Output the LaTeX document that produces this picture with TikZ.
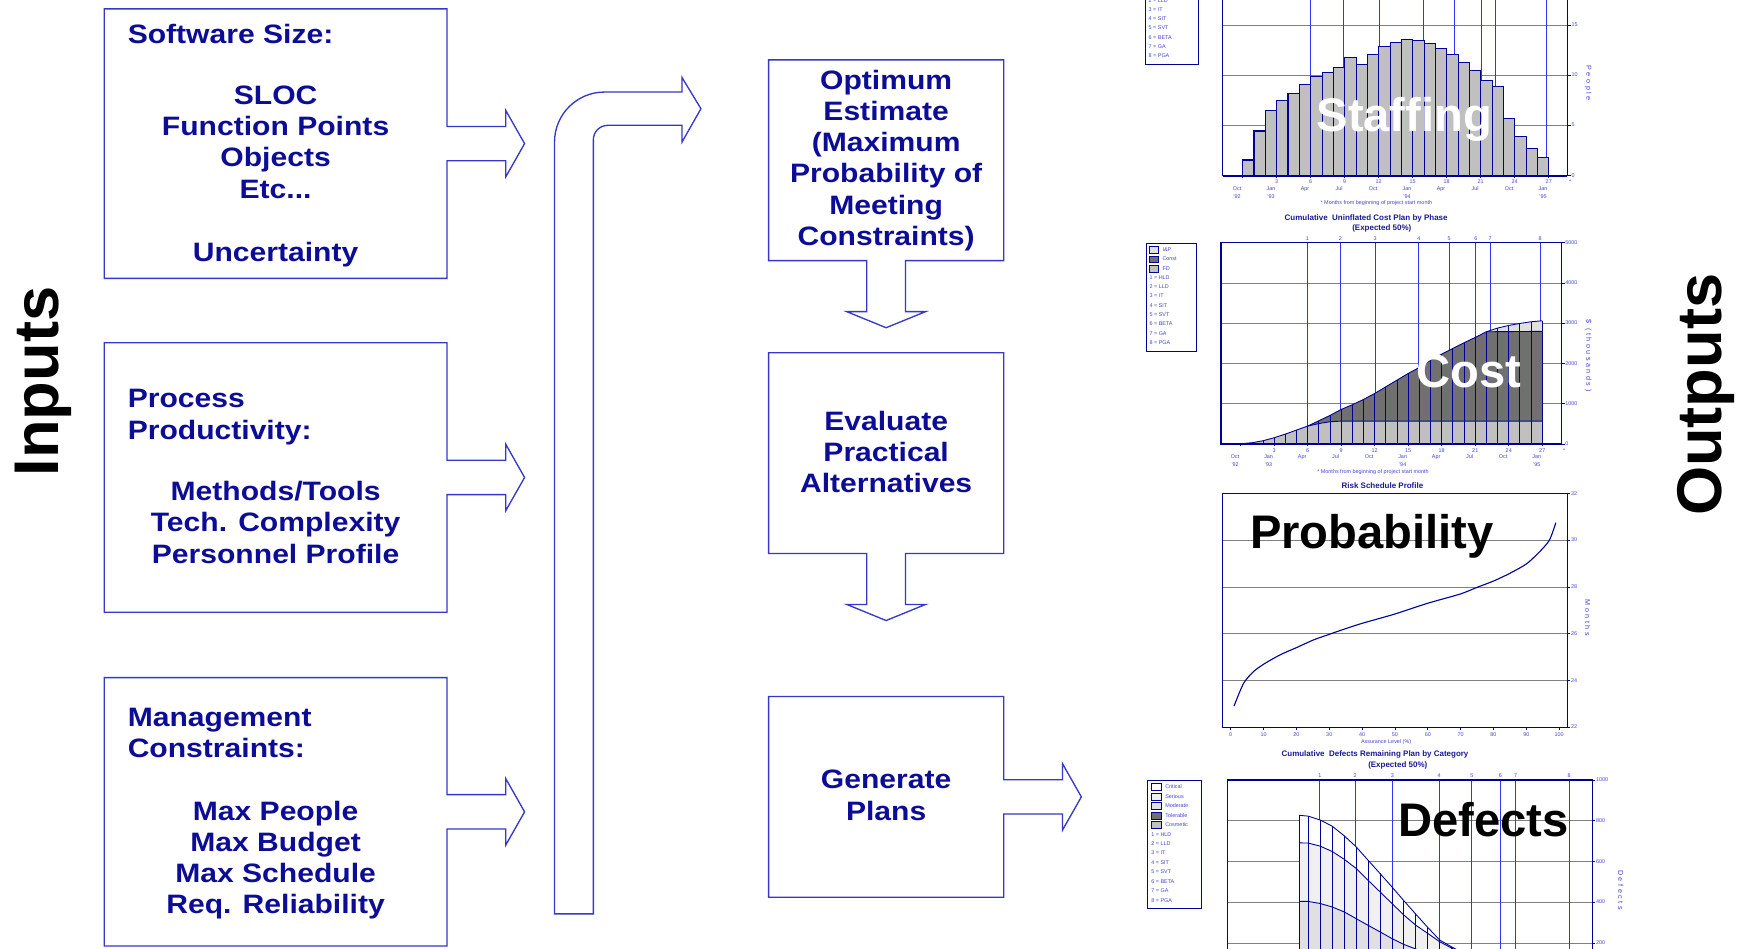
\documentclass[tikz,border=0pt]{standalone}
\usepackage{fontspec}
\setmainfont{Liberation Sans}
\newfontfamily\boxfont[FakeStretch=1.13]{Liberation Sans}
\newfontfamily\spfont[LetterSpace=35]{Liberation Sans}
\usetikzlibrary{calc}
\definecolor{navyT}{RGB}{12,12,150}
\definecolor{lineB}{RGB}{55,55,200}
\definecolor{frameB}{RGB}{0,0,150}
\definecolor{phaseB}{RGB}{50,50,250}
\definecolor{gridG}{RGB}{128,128,128}
\definecolor{labB}{RGB}{70,70,210}
\definecolor{titleB}{RGB}{25,25,150}
\definecolor{barG}{RGB}{192,192,192}
\definecolor{darkG}{RGB}{112,112,112}
\definecolor{lightG}{RGB}{224,224,224}
\definecolor{vlightG}{RGB}{240,240,240}
\tikzset{
  outl/.style={draw=lineB, line width=1.2pt, line join=miter},
  boxnode/.style={draw=none, rectangle, inner sep=0pt, outer sep=0pt},
  tx/.style={font=\boxfont\bfseries\fontsize{24}{28}\selectfont, text=navyT, inner sep=0pt},
  bigk/.style={font=\bfseries\fontsize{57}{62}\selectfont, text=black, inner sep=0pt},
  chartword/.style={font=\bfseries\fontsize{42.5}{48}\selectfont, inner sep=0pt},
  lab/.style={font=\fontsize{4.9}{5.5}\selectfont, text=labB, inner sep=0pt, text height=3.5pt, text depth=0.9pt},
  axt/.style={font=\spfont\fontsize{6.5}{7}\selectfont, text=labB, inner sep=0pt, rotate=-90},
  ctitle/.style={font=\bfseries\fontsize{7.2}{8}\selectfont, text=titleB, inner sep=0pt},
  frame/.style={draw=frameB, line width=1.1pt},
  gridl/.style={draw=gridG, line width=0.9pt},
  phase/.style={draw=phaseB, line width=0.9pt},
  colL/.style={draw=frameB, line width=0.8pt},
  barst/.style={fill=barG, draw=frameB, line width=1pt},
  leg/.style={draw=frameB, line width=0.8pt},
}
\newcommand\rarrowbox[1]{\draw[outl] (#1.north west) -- (#1.north east) -- ($(#1.east)+(0,-15.5)$) -- ++(53,0) -- ++(0,-14.5) -- ($(#1.east)+(70,0)$) -- ($(#1.east)+(53,30)$) -- ++(0,-14.5) -- ($(#1.east)+(0,15.5)$) -- (#1.south east) -- (#1.south west) -- cycle;}
\newcommand\darrowbox[1]{\draw[outl] (#1.north west) -- (#1.north east) -- (#1.south east) -- ($(#1.south)+(17.5,0)$) -- ++(0,46) -- ++(18,0) -- ($(#1.south)+(0,60.5)$) -- ($(#1.south)+(-35.5,46)$) -- ++(18,0) -- ($(#1.south)+(-17.5,0)$) -- (#1.south west) -- cycle;}
\begin{document}
\begin{tikzpicture}[x=1pt,y=-1pt]
\useasboundingbox (0,0) rectangle (1568,855);
\fill[white] (0,0) rectangle (1568,855);
\begin{scope}
\clip (0,0) rectangle (1568,855);

% ---------- side titles
\node[bigk, rotate=90, anchor=base] (inputs) at (53,344) {Inputs};
\node[bigk, rotate=90, anchor=base] (outputs) at (1552.5,356) {Outputs};

% ---------- input boxes
\node[boxnode, minimum width=309pt, minimum height=243pt] (in1) at (248.5,129.5) {};
\node[boxnode, minimum width=309pt, minimum height=243pt] (in2) at (248.5,430.5) {};
\node[boxnode, minimum width=309pt, minimum height=242pt] (in3) at (248.5,732) {};
\rarrowbox{in1}
\rarrowbox{in2}
\rarrowbox{in3}

\node[tx, anchor=base west] (in1t) at (115,39) {Software Size:};
\node[tx, anchor=base] (in1a) at (248.5,94) {SLOC};
\node[tx, anchor=base] (in1b) at (248.5,122.3) {Function Points};
\node[tx, anchor=base] (in1c) at (248.5,150.3) {Objects};
\node[tx, anchor=base] (in1d) at (248.5,178.8) {Etc...};
\node[tx, anchor=base] (in1e) at (248.5,236) {Uncertainty};

\node[tx, anchor=base west] (in2t) at (115,367.3) {Process};
\node[tx, anchor=base west] (in2u) at (115,395.9) {Productivity:};
\node[tx, anchor=base] (in2a) at (248.5,451.5) {Methods/Tools};
\node[tx, anchor=base] (in2b) at (248.5,479.4) {Tech. Complexity};
\node[tx, anchor=base] (in2c) at (248.5,508) {Personnel Profile};

\node[tx, anchor=base west] (in3t) at (115,655) {Management};
\node[tx, anchor=base west] (in3u) at (115,683) {Constraints:};
\node[tx, anchor=base] (in3a) at (248.5,740) {Max People};
\node[tx, anchor=base] (in3b) at (248.5,768) {Max Budget};
\node[tx, anchor=base] (in3c) at (248.5,796) {Max Schedule};
\node[tx, anchor=base] (in3d) at (248.5,824) {Req. Reliability};

% ---------- bent collecting arrow
\coordinate (bentBot) at (500,824);
\draw[outl] (bentBot) -- (500,128) arc[start angle=180, end angle=270, radius=45] -- (615,83) -- (615,70) -- (632,98) -- (615,128) -- (615,113) -- (548,113) arc[start angle=270, end angle=180, radius=13] -- (535,824) -- cycle;

% ---------- process steps
\node[boxnode, minimum width=212pt, minimum height=181pt] (stepA) at (799,144.5) {};
\node[boxnode, minimum width=212pt, minimum height=181pt] (stepB) at (799,408.5) {};
\node[boxnode, minimum width=212pt, minimum height=181pt] (stepC) at (799,718.5) {};
\darrowbox{stepA}
\darrowbox{stepB}
\rarrowbox{stepC}

\node[tx, anchor=base] (sa1) at (799,80.5) {Optimum};
\node[tx, anchor=base] (sa2) at (799,108.8) {Estimate};
\node[tx, anchor=base] (sa3) at (799,136.8) {(Maximum};
\node[tx, anchor=base] (sa4) at (799,164.7) {Probability of};
\node[tx, anchor=base] (sa5) at (799,193) {Meeting};
\node[tx, anchor=base] (sa6) at (799,221) {Constraints)};
\node[tx, anchor=base] (sb1) at (799,388) {Evaluate};
\node[tx, anchor=base] (sb2) at (799,416) {Practical};
\node[tx, anchor=base] (sb3) at (799,444) {Alternatives};
\node[tx, anchor=base] (sc1) at (799,711) {Generate};
\node[tx, anchor=base] (sc2) at (799,739.4) {Plans};

% ================= Chart 1: Staffing
\draw[leg] (1033,-5) rectangle (1080.6,57.7);
\foreach \yy/\txt [count=\i] in {0.6/2 = LLD, 9/3 = IT, 17.1/4 = SIT, 25.5/5 = SVT, 34/6 = BETA, 42.1/7 = GA, 50.2/8 = PGA}
  \node[lab, anchor=west] (lgA\i) at (1035.5,\yy) {\txt};
\begin{scope}[shift={(1120.5,158.4)}, x=10.22pt, y=9.05pt]
  \foreach \p in {5,10,15,20} \draw[gridl] (-1.76,\p) -- (28.95,\p);
  \foreach \m in {5.97,8.92,12.03,15.95,18.67,21.05,22.33,26.8} \draw[phase] (\m,0) -- (\m,21);
  \foreach \h [count=\i] in {1.56,4.45,6.5,7.5,8.2,9.1,9.9,10.3,10.8,11.75,11.1,12.1,12.85,13.3,13.55,13.45,13.2,12.7,12.1,11.3,10.45,9.5,8.9,5.7,3.9,2.7,1.8}
    \draw[barst] (\i-1,0) rectangle (\i,\h);
  \draw[frame] (-1.76,21) -- (-1.76,0) -- (28.62,0) -- (28.62,21);
  \draw[draw=frameB, line width=1.8pt] (-1.76,0) -- (28.62,0);
  \foreach \p in {0,5,10,15} {
    \draw[frame, line width=0.7pt] (28.62,\p) -- (28.95,\p);
    \node[lab, anchor=west] (stY\p) at (29.0,\p) {\p};
  }
  \foreach \k in {0,3,...,27} \draw[frame, line width=0.6pt] (\k,0) -- (\k,-0.25);
\end{scope}
\foreach \k in {3,6,...,27} \node[lab] (stN\k) at ({1120.5+10.22*\k},164) {\k};
\node[lab] (stStar) at ({1120.5+10.22*28.9},164) {*};
\foreach \mn [count=\j from 0] in {Oct,Jan,Apr,Jul,Oct,Jan,Apr,Jul,Oct,Jan}
  \node[lab] (stM\j) at ({1120.5+10.22*(3*\j-0.5)},170.5) {\mn};
\node[lab] (stY92) at ({1120.5+10.22*(-0.5)},177.5) {'92};
\node[lab] (stY93) at ({1120.5+10.22*(2.5)},177.5) {'93};
\node[lab] (stY94) at ({1120.5+10.22*(14.5)},177.5) {'94};
\node[lab] (stY95) at ({1120.5+10.22*(26.5)},177.5) {'95};
\node[lab] (stFoot) at (1241,183.5) {* Months from beginning of project start month};
\node[axt] (stAx) at (1432,75) {People};
\node[chartword, text=white, anchor=base] (staffing) at (1266.2,118.7) {Staffing};

% ================= Chart 2: Cost
\node[ctitle] (coT1) at (1231.8,197) {Cumulative\ \ Uninflated Cost Plan by Phase};
\node[ctitle] (coT2) at (1245.9,205.9) {(Expected 50\%)};
\draw[leg] (1034,219.4) rectangle (1079,316.5);
\draw[leg, fill=lightG] (1036.4,222.4) rectangle (1044.8,228.4);
\draw[leg, fill=darkG] (1036.4,230.8) rectangle (1044.8,236.8);
\draw[leg, fill=barG] (1036.4,239.6) rectangle (1044.8,245.6);
\node[lab, anchor=west] (lgB1) at (1048,225.4) {I\&P};
\node[lab, anchor=west] (lgB2) at (1048,233.8) {Const};
\node[lab, anchor=west] (lgB3) at (1048,242.6) {FD};
\foreach \yy/\txt [count=\i] in {250.4/1 = HLD, 258.5/2 = LLD, 266.9/3 = IT, 275.9/4 = SIT, 284/5 = SVT, 292.2/6 = BETA, 300.9/7 = GA, 309/8 = PGA}
  \node[lab, anchor=west] (lgBn\i) at (1036.3,\yy) {\txt};
\begin{scope}[shift={(1118.7,400.4)}, x=10.07pt, y=36.3pt]
  \foreach \v in {1,2,3,4} \draw[gridl] (-1.76,\v) -- (29.0,\v);
  \foreach \m in {5.97,8.92,12.03,15.95,18.67,21.05,22.33,26.8} \draw[phase] (\m,0) -- (\m,5);
  \fill[lightG] (0,0) -- plot coordinates {(0,0.008) (1,0.033) (2,0.083) (3,0.157) (4,0.248) (5,0.348) (6,0.447) (7,0.58) (8,0.712) (9,0.861) (10,0.977) (11,1.109) (12,1.258) (13,1.424) (14,1.589) (15,1.755) (16,1.904) (17,2.086) (18,2.235) (19,2.376) (20,2.517) (21,2.649) (22,2.79) (23,2.881) (24,2.947) (25,2.997) (26,3.038) (27,3.063)} -- (27,0) -- cycle;
  \fill[darkG] (0,0) -- plot coordinates {(0,0.008) (1,0.033) (2,0.083) (3,0.157) (4,0.248) (5,0.348) (6,0.447) (7,0.58) (8,0.712) (9,0.861) (10,0.977) (11,1.109) (12,1.258) (13,1.424) (14,1.589) (15,1.755) (16,1.904) (17,2.086) (18,2.235) (19,2.376) (20,2.517) (21,2.649) (22,2.79) (23,2.8) (24,2.8) (25,2.8) (26,2.8) (27,2.8)} -- (27,0) -- cycle;
  \fill[barG] (0,0) -- plot coordinates {(0,0.008) (1,0.033) (2,0.083) (3,0.157) (4,0.248) (5,0.348) (6,0.447) (7,0.51) (8,0.555) (9,0.57) (27,0.57)} -- (27,0) -- cycle;
  \foreach \v [count=\i from 0] in {0.008,0.033,0.083,0.157,0.248,0.348,0.447,0.58,0.712,0.861,0.977,1.109,1.258,1.424,1.589,1.755,1.904,2.086,2.235,2.376,2.517,2.649,2.79,2.881,2.947,2.997,3.038,3.063}
    \draw[colL] (\i,0) -- (\i,\v);
  \draw[colL] plot coordinates {(0,0.008) (1,0.033) (2,0.083) (3,0.157) (4,0.248) (5,0.348) (6,0.447) (7,0.58) (8,0.712) (9,0.861) (10,0.977) (11,1.109) (12,1.258) (13,1.424) (14,1.589) (15,1.755) (16,1.904) (17,2.086) (18,2.235) (19,2.376) (20,2.517) (21,2.649) (22,2.79) (23,2.881) (24,2.947) (25,2.997) (26,3.038) (27,3.063)};
  \draw[colL] (6,0.447) -- (7,0.51) -- (8,0.555) -- (9,0.57) -- (27,0.57);
  \draw[colL] (22,2.79) -- (27,2.8);
  \draw[frame] (-1.76,0) rectangle (28.73,5);
  \draw[draw=frameB, line width=1.8pt] (-1.76,0) -- (28.73,0);
  \foreach \v in {0,1,2,3,4,5} {
    \draw[frame, line width=0.7pt] (28.73,\v) -- (29.0,\v);
  }
  \foreach \k in {0,3,...,27} \draw[frame, line width=0.6pt] (\k,0) -- (\k,-0.06);
\end{scope}
\foreach \v/\txt in {0/0,1/1000,2/2000,3/3000,4/4000,5/5000}
  \node[lab, anchor=west] (coY\v) at (1411.2,{400.4-36.3*\v}) {\txt};
\foreach \m [count=\i] in {5.97,8.92,12.03,15.95,18.67,21.05,22.33,26.8}
  \node[lab] (coP\i) at ({1118.7+10.07*\m},215.5) {\i};
\foreach \k in {3,6,...,27} \node[lab] (coN\k) at ({1118.7+10.07*\k},406.4) {\k};
\node[lab] (coStar) at (1410.3,406.4) {*};
\foreach \mn [count=\j from 0] in {Oct,Jan,Apr,Jul,Oct,Jan,Apr,Jul,Oct,Jan}
  \node[lab] (coM\j) at ({1118.7+10.07*(3*\j-0.5)},412.3) {\mn};
\node[lab] (coY92) at ({1118.7+10.07*(-0.5)},419.3) {'92};
\node[lab] (coY93) at ({1118.7+10.07*(2.5)},419.3) {'93};
\node[lab] (coY94) at ({1118.7+10.07*(14.5)},419.3) {'94};
\node[lab] (coY95) at ({1118.7+10.07*(26.5)},419.3) {'95};
\node[lab] (coFoot) at (1238,425.3) {* Months from beginning of project start month};
\node[axt] (coAx) at (1432,320.6) {\$ (thousands)};
\node[chartword, text=white, anchor=base] (cost) at (1324.7,349.3) {Cost};

% ================= Chart 3: Probability
\node[ctitle] (prT) at (1246.5,438.2) {Risk Schedule Profile};
\begin{scope}[shift={(1109.7,655.8)}, x=2.961pt, y=21.07pt]
  \foreach \v in {2,4,6,8} \draw[gridl] (-2.53,\v) -- (103.4,\v);
  \draw[frame] (-2.53,0) rectangle (102.5,10);
  \foreach \v in {0,2,4,6,8,10} \draw[frame, line width=0.7pt] (102.5,\v) -- (103.4,\v);
  \foreach \a in {0,10,...,100} \draw[frame, line width=0.6pt] (\a,0) -- (\a,-0.1);
  \draw[draw=frameB, line width=1pt] plot[smooth, tension=0.45] coordinates {(1,0.91) (3.9,1.88) (6.9,2.38) (10,2.70) (15,3.10) (20,3.41) (25.2,3.74) (30,3.98) (34.3,4.19) (40,4.45) (50,4.85) (60,5.31) (70,5.71) (75,5.99) (80,6.26) (85,6.59) (90,6.99) (93.6,7.45) (97,8.0) (99,8.76)};
\end{scope}
\foreach \v in {22,24,...,32} \node[lab, anchor=west] (prY\v) at (1416.3,{655.8-21.07*(\v-22)}) {\v};
\foreach \a in {0,10,...,100} \node[lab] (prX\a) at ({1109.7+2.961*\a},662.8) {\a};
\node[lab] (prXt) at (1249.8,669) {Assurance Level (\%)};
\node[axt] (prAx) at (1431.6,557) {Months};
\node[chartword, text=black, anchor=base] (prob) at (1237,494.4) {Probability};

% ================= Chart 4: Defects
\node[ctitle] (deT1) at (1239.8,680.2) {Cumulative\ \ Defects Remaining Plan by Category};
\node[ctitle] (deT2) at (1260.3,689.8) {(Expected 50\%)};
\draw[leg] (1034.9,703.6) rectangle (1083.6,819.4);
\foreach \yy/\col/\txt [count=\i] in {709.6/white/Critical, 718.4/vlightG/Serious, 726.8/lightG/Moderate, 735.8/darkG/Tolerable, 743.9/barG/Cosmetic} {
  \draw[leg, fill=\col] (1038,\yy-3) rectangle (1047.5,\yy+3);
  \node[lab, anchor=west] (lgD\i) at (1050.5,\yy) {\txt};
}
\foreach \yy/\txt [count=\i] in {752.6/1 = HLD, 760.7/2 = LLD, 769.5/3 = IT, 777.9/4 = SIT, 786.6/5 = SVT, 795/6 = BETA, 803.7/7 = GA, 812.2/8 = PGA}
  \node[lab, anchor=west] (lgDn\i) at (1037.9,\yy) {\txt};
\begin{scope}[shift={(1125.6,887.3)}, x=10.79pt, y=18.4pt]
  \foreach \v in {2,4,6,8} \draw[gridl] (-1.72,\v) -- (29.0,\v);
  \foreach \m in {5.97,8.92,12.03,15.95,18.67,21.05,22.33,26.8} \draw[phase] (\m,0) -- (\m,10);
  \fill[white] (4.25,0) -- plot coordinates {(4.25,8.27) (5,8.23) (6,8.04) (7,7.74) (8,7.27) (9,6.73) (10,6.07) (11,5.42) (12,4.76) (13,4.08) (14,3.42) (15,2.77) (16,2.15) (17,1.82) (18,1.50) (19,1.20) (20,0.95)} -- (20,0) -- cycle;
  \fill[vlightG] (4.25,0) -- plot coordinates {(4.25,6.92) (5,6.91) (6,6.76) (7,6.50) (8,6.12) (9,5.67) (10,5.09) (11,4.52) (12,3.95) (13,3.38) (14,2.88) (15,2.48) (16,2.07) (17,1.76) (18,1.46) (19,1.17) (20,0.93)} -- (20,0) -- cycle;
  \fill[lightG] (4.25,0) -- plot coordinates {(4.25,4.05) (5,4.05) (6,3.95) (7,3.78) (8,3.54) (9,3.21) (10,2.88) (11,2.56) (12,2.23) (13,1.94) (14,1.72) (15,1.50) (16,1.30) (17,1.12) (18,0.95) (19,0.80) (20,0.65)} -- (20,0) -- cycle;
  \foreach \m/\t in {4.25/8.27,5/8.23,6/8.04,7/7.74,8/7.27,9/6.73,10/6.07,11/5.42,12/4.76,13/4.08,14/3.42,15/2.77,16/2.15,17/1.82,18/1.50,19/1.20,20/0.95}
    \draw[colL] (\m,0) -- (\m,\t);
  \draw[colL] plot coordinates {(4.25,8.27) (5,8.23) (6,8.04) (7,7.74) (8,7.27) (9,6.73) (10,6.07) (11,5.42) (12,4.76) (13,4.08) (14,3.42) (15,2.77) (16,2.15) (17,1.82) (18,1.50) (19,1.20) (20,0.95)};
  \draw[colL] plot coordinates {(4.25,6.92) (5,6.91) (6,6.76) (7,6.50) (8,6.12) (9,5.67) (10,5.09) (11,4.52) (12,3.95) (13,3.38) (14,2.88) (15,2.48) (16,2.07) (17,1.76) (18,1.46) (19,1.17) (20,0.93)};
  \draw[colL] plot coordinates {(4.25,4.05) (5,4.05) (6,3.95) (7,3.78) (8,3.54) (9,3.21) (10,2.88) (11,2.56) (12,2.23) (13,1.94) (14,1.72) (15,1.50) (16,1.30) (17,1.12) (18,0.95) (19,0.80) (20,0.65)};
  \draw[frame] (-1.72,0) -- (-1.72,10) -- (28.75,10) -- (28.75,0);
  \foreach \v in {2,4,6,8,10} \draw[frame, line width=0.7pt] (28.75,\v) -- (29.0,\v);
\end{scope}
\foreach \v in {200,400,600,800,1000} \node[lab, anchor=west] (deY\v) at (1439,{887.3-0.184*\v}) {\v};
\foreach \m [count=\i] in {5.97,8.92,12.03,15.95,18.67,21.05,22.33,26.8}
  \node[lab] (deP\i) at ({1125.6+10.79*\m},699.4) {\i};
\node[axt] (deAx) at (1461.4,802.5) {Defects};
\node[chartword, text=black, anchor=base] (defects) at (1337.5,754.4) {Defects};
\end{scope}
\end{tikzpicture}
\end{document}
